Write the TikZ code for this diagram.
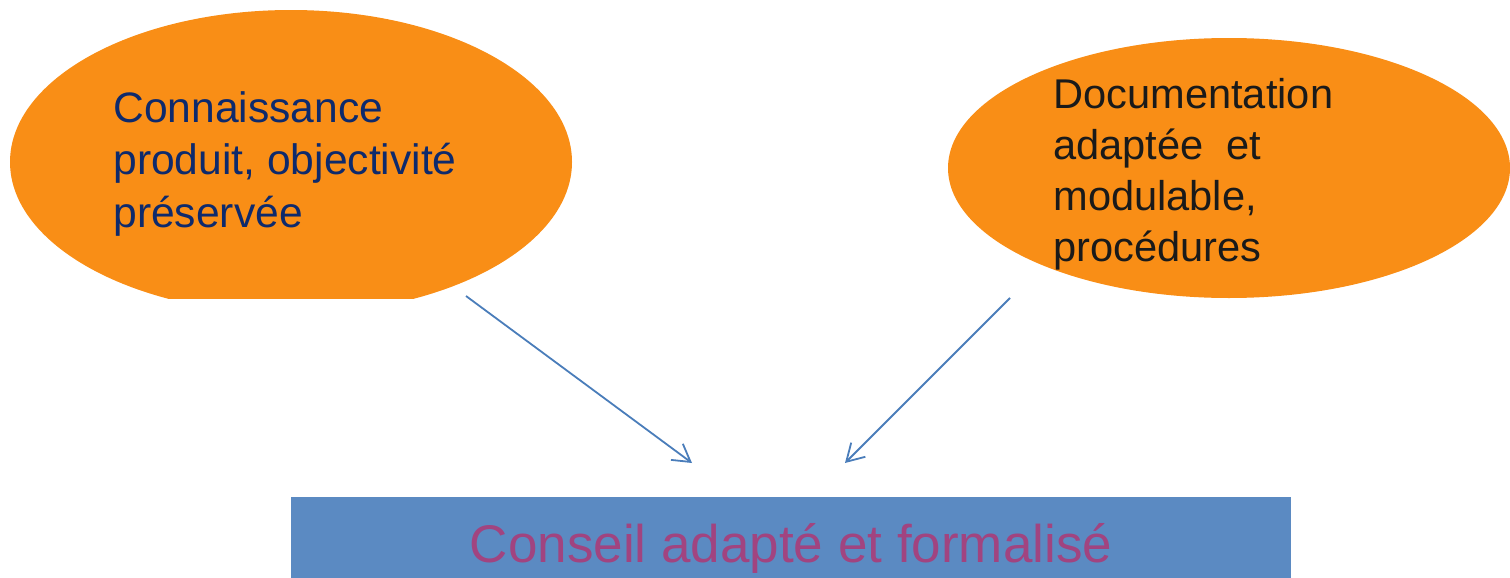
\documentclass[tikz,border=0pt]{standalone}
\usepackage{fontspec}
\setmainfont{Liberation Sans}
\usetikzlibrary{shapes.geometric,arrows.meta}
\definecolor{bubblefill}{HTML}{F98E16}
\definecolor{navytext}{HTML}{0E2A6C}
\definecolor{darktext}{HTML}{1A1A1A}
\definecolor{boxfill}{HTML}{5B8AC2}
\definecolor{boxtext}{HTML}{A14480}
\definecolor{linkblue}{HTML}{4A7DBA}
\tikzset{
  bubble/.style={ellipse, fill=bubblefill, inner sep=0pt},
  bubbletext/.style={anchor=north west, inner sep=0pt, align=left},
  resultbox/.style={rectangle, fill=boxfill, inner sep=0pt,
    minimum width=500pt, minimum height=46.5pt,
    text height=19pt, text depth=0pt, text=boxtext,
    font=\fontsize{26.5}{32}\selectfont},
  link/.style={draw=linkblue, line width=0.9pt,
    -{Straight Barb[length=8.5pt, width=10pt, line width=0.9pt]}}
}
\begin{document}
\begin{tikzpicture}[x=0.5pt, y=-0.5pt]
  \clip (0,0) rectangle (1510,578);

  % left bubble, flattened at its lower edge
  \begin{scope}
    \clip (0,0) rectangle (1510,298);
    \node[bubble, minimum width=281pt, minimum height=152pt] (know) at (291,162) {};
  \end{scope}
  \node[bubbletext, text=navytext, font=\fontsize{21.3}{26.2}\selectfont]
    (knowtxt) at (113,91) {Connaissance\\produit, objectivité\\préservée};

  % right bubble
  \node[bubble, minimum width=281pt, minimum height=130pt] (docs) at (1229,168) {};
  \node[bubbletext, text=darktext, font=\fontsize{20.8}{25.5}\selectfont]
    (docstxt) at (1053,78) {Documentation\\adaptée\ \ et\\modulable,\\procédures};

  % resulting advice
  \node[resultbox] (advice) at (791,543.5) {Conseil adapté et formalisé};

  % connectors
  \coordinate (knowout) at (466,296);
  \coordinate (knowin) at (692,463);
  \coordinate (docsout) at (1010,298);
  \coordinate (docsin) at (845,463);
  \draw[link] (knowout) -- (knowin);
  \draw[link] (docsout) -- (docsin);
\end{tikzpicture}
\end{document}
